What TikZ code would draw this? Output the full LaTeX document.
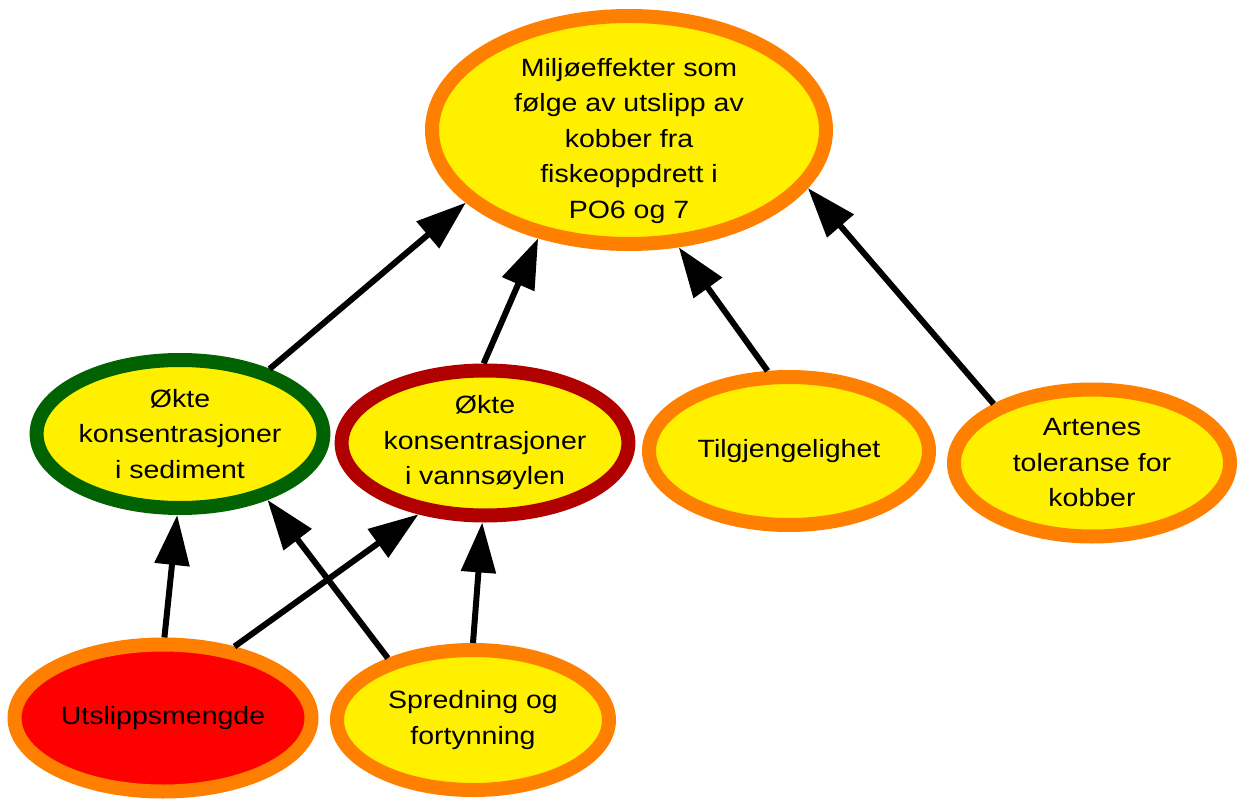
\documentclass[tikz,border=0pt]{standalone}
\usepackage{fontspec}
\setmainfont{Liberation Sans}[FakeStretch=1.14]
\usetikzlibrary{shapes.geometric,arrows.meta}
\definecolor{cyel}{RGB}{255,240,0}
\definecolor{corange}{RGB}{255,128,0}
\definecolor{cgreen}{RGB}{0,98,0}
\definecolor{cdred}{RGB}{176,0,0}
\definecolor{cred}{RGB}{255,0,0}
\begin{document}
\begin{tikzpicture}[x=1pt,y=-1pt,
  bub/.style={ellipse, draw=corange, fill=cyel, line width=14pt, inner sep=0pt,
    align=center, text=black, font=\fontsize{25}{35.5}\selectfont},
  arr/.style={line width=6pt, draw=black, -{Triangle[length=50pt,width=34pt]}}]
\fill[white] (0,0) rectangle (1239,799);
\useasboundingbox (0,0) rectangle (1239,799);

\node[bub, minimum width=394pt, minimum height=228pt, inner ysep=-16pt] (T) at (629,130)
  {\rule{0pt}{40pt}Miljøeffekter som\\følge av utslipp av\\kobber fra\\fiskeoppdrett i\\PO6 og 7};
\node[bub, draw=cgreen, minimum width=282pt, minimum height=148pt] (G) at (180,434)
  {Økte\\konsentrasjoner\\i sediment};
\node[bub, draw=cdred, minimum width=280pt, minimum height=145pt] (D) at (485,443)
  {Økte\\konsentrasjoner\\i vannsøylen};
\node[bub, minimum width=280pt, minimum height=148pt] (Ti) at (789,451)
  {Tilgjengelighet};
\node[bub, minimum width=276pt, minimum height=147pt] (A) at (1092,463)
  {Artenes\\toleranse for\\kobber};
\node[bub, fill=cred, minimum width=297pt, minimum height=147pt] (U) at (163,718)
  {Utslippsmengde};
\node[bub, minimum width=272pt, minimum height=140pt] (S) at (473,720)
  {Spredning og\\fortynning};

\draw[arr] (G.36) -- (T.204.4);
\draw[arr] (D.91.4) -- (T.230.1);
\draw[arr] (Ti.105.2) -- (T.293.6);
\draw[arr] (A.149) -- (T.342.4);
\draw[arr] (U.89) -- (G.268);
\draw[arr] (U.45.4) -- (D.227.8);
\draw[arr] (S.144.2) -- (G.323.7);
\draw[arr] (S.90.8) -- (D.268);
\end{tikzpicture}
\end{document}
